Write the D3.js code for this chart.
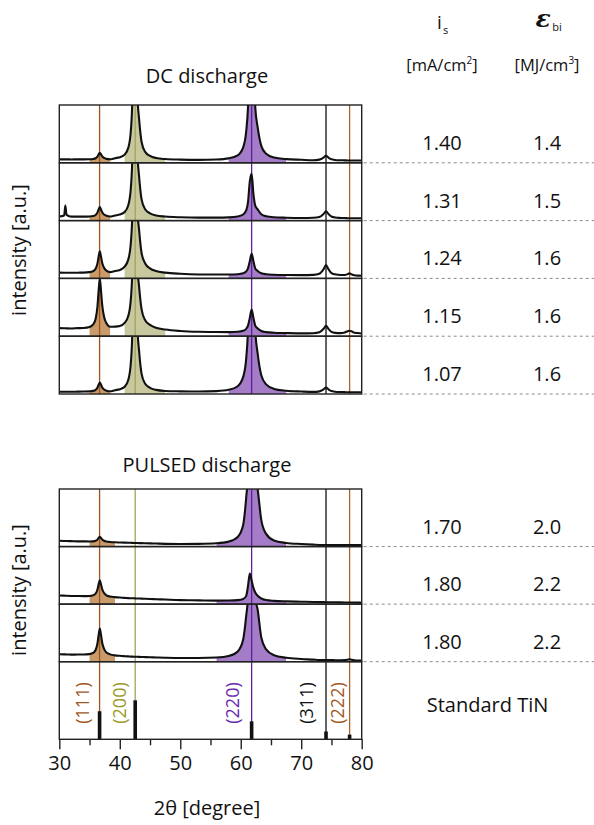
<!DOCTYPE html>
<html><head><meta charset="utf-8">
<script src="https://cdn.jsdelivr.net/npm/d3@7"></script>
<style>body{margin:0;background:#fff}svg{display:block;font-family:"Open Sans",sans-serif}</style>
</head><body><svg id="c" width="594" height="825"></svg>
<script>
// ---------- data ----------
const twoTheta = [30, 30.8, 31.0, 31.2, 32, 33, 34, 35, 35.6, 36.0,
  36.3, 36.5, 36.7, 36.9, 37.1, 37.4, 37.8, 38.4, 39.2, 40.0,
  40.8, 41.4, 41.8, 42.1, 42.3, 42.5, 42.7, 42.9, 43.2, 43.6,
  44.2, 45.0, 46.0, 47.5, 50, 53, 56, 58, 59.5, 60.4,
  60.9, 61.2, 61.5, 61.8, 62.1, 62.4, 62.8, 63.4, 64.2, 65.5,
  67.5, 70, 72, 73.0, 73.7, 74.1, 74.5, 75.0, 75.6, 76.5,
  77.2, 77.7, 78.0, 78.3, 78.8, 79.4, 80];
// DC discharge patterns (intensity, 100 = panel height)
const dc140 = [6.0, 6.0, 5.9, 5.9, 5.8, 5.9, 5.9, 6.1, 6.7, 7.9,
  10.7, 14.5, 17.5, 14.5, 11.1, 8.4, 6.8, 6.1, 8.0, 9.7,
  14.2, 25.8, 52, 117, 234, 355, 234, 120, 75, 36.5,
  18.9, 11.9, 8.3, 6.5, 5.5, 5.1, 5.8, 7.7, 13, 26.8,
  53.8, 96.3, 196, 304, 196, 96.3, 61.3, 29.3, 15.7, 9.0,
  6.3, 5.2, 4.5, 5.5, 9.0, 12.1, 9.0, 6.0, 4.9, 4.4,
  4.2, 4.0, 4.0, 4.0, 4.0, 4.0, 4.0];
const dc131 = [7.0, 8.9, 25.9, 9.9, 6.8, 6.9, 6.9, 7.2, 8.0, 9.8,
  13.8, 19.2, 23.3, 19.1, 14.3, 10.5, 8.2, 7.1, 8.9, 10.4,
  14.8, 26.6, 52.7, 117.8, 234.8, 355.8, 234.8, 120.7, 75.7, 37.1,
  19.6, 12.5, 8.9, 7.0, 5.7, 5.1, 5.2, 5.6, 7.0, 10.5,
  17.5, 32, 68, 81, 46, 26, 19.4, 11.0, 7.5, 5.75,
  5.0, 4.6, 4.9, 6.2, 11.5, 16.2, 11.5, 7.0, 5.4, 4.6,
  4.4, 4.1, 4.1, 4.05, 4.0, 4.0, 4.0];
const dc124 = [10.0, 9.9, 9.85, 9.8, 9.7, 9.9, 10.0, 10.8, 12.6, 16.7,
  25.6, 37.7, 47.0, 37.6, 26.8, 18.4, 13.4, 10.9, 12.7, 14.5,
  20.3, 32.5, 58.2, 120, 237, 358, 237, 123, 83, 44,
  25.9, 17.3, 12.6, 10.0, 8.0, 6.85, 6.7, 6.7, 7.3, 8.9,
  12.2, 17.5, 29.7, 43.0, 29.7, 17.4, 12.9, 9.0, 7.2, 6.3,
  5.8, 5.6, 6.1, 8.1, 16.0, 23.0, 16.0, 9.2, 7.0, 5.8,
  5.9, 7.5, 8.7, 7.2, 5.4, 4.85, 4.7];
const dc115 = [14.0, 13.8, 13.7, 13.6, 13.4, 13.9, 14.3, 16.1, 20.4, 29.8,
  50.3, 78.4, 100, 78.3, 53.3, 33.8, 22.3, 16.3, 16.6, 17.7,
  23.1, 35, 60.8, 122, 239, 360, 239, 125, 85, 46.9,
  27.7, 19.5, 14.7, 11.6, 9.0, 7.6, 7.2, 7.1, 7.6, 9.3,
  12.8, 18.4, 31.7, 46.0, 31.6, 18.2, 13.5, 9.1, 7.1, 6.0,
  5.4, 4.9, 5.2, 6.7, 12.8, 18.2, 12.7, 7.5, 5.7, 5.3,
  6.6, 8.7, 9.5, 8.5, 6.0, 5.5, 4.8];
const dc107 = [4.0, 4.0, 4.0, 4.0, 3.95, 4.05, 4.2, 4.6, 5.4, 7.1,
  10.7, 15.9, 19.8, 15.9, 11.3, 7.8, 5.7, 4.7, 6.6, 8.2,
  12.6, 24.4, 50.6, 116, 233, 354, 233, 119, 73.7, 35.2,
  17.7, 10.6, 7.1, 5.3, 4.6, 4.2, 5.0, 7.2, 13.5, 29.6,
  61.1, 111, 227, 353, 227, 111, 69.8, 32.3, 16.6, 8.8,
  5.7, 4.3, 3.6, 4.5, 8.0, 11.1, 8.0, 5.0, 3.9, 3.4,
  3.2, 3.04, 3.03, 3.03, 3.02, 3.01, 3.0];
// PULSED discharge patterns
const pulsed170 = [10.0, 9.8, 9.7, 9.6, 9.4, 9.1, 9.0, 8.9, 9.1, 10.0,
  12.0, 14.9, 17.0, 14.7, 12.1, 10.05, 8.8, 8.0, 7.4, 7.1,
  6.8, 6.6, 6.5, 6.4, 6.3, 6.25, 6.2, 6.1, 6.0, 5.9,
  5.7, 5.5, 5.2, 4.75, 4.5, 4.75, 5.8, 8.6, 16.7, 37.5,
  85, 128, 260, 400, 260, 128, 100, 46, 22, 10.5,
  6.3, 4.4, 3.3, 2.85, 2.82, 2.8, 2.77, 2.75, 2.72, 2.67,
  2.64, 2.62, 2.6, 2.58, 2.56, 2.53, 2.5];
const pulsed180a = [15.0, 14.7, 14.6, 14.5, 14.2, 14.1, 13.9, 14.2, 15.5, 18.4,
  25.1, 34.3, 41.3, 34.1, 25.8, 19.3, 15.4, 13.2, 12.1, 11.4,
  10.9, 10.4, 10.3, 10.2, 10.1, 10.0, 9.9, 9.8, 9.7, 9.6,
  9.3, 9.0, 8.6, 8.0, 7.0, 6.55, 6.1, 6.3, 7.0, 9.0,
  14.4, 31.3, 53.3, 41.2, 28.2, 20.1, 14.6, 9.8, 7.1, 5.7,
  4.8, 4.2, 3.7, 3.55, 3.45, 3.4, 3.33, 3.25, 3.16, 3.03,
  2.92, 2.85, 2.8, 2.76, 2.68, 2.6, 2.5];
const pulsed180b = [13.0, 12.7, 12.65, 12.6, 12.3, 12.4, 12.4, 13.2, 15.3, 20.3,
  31.2, 46.1, 57.7, 46.0, 32.6, 22.2, 15.9, 12.7, 11.0, 10.2,
  9.6, 9.2, 8.9, 8.8, 8.7, 8.6, 8.55, 8.5, 8.4, 8.25,
  8.0, 7.75, 7.4, 6.9, 6.4, 6.5, 7.3, 9.9, 17.9, 38.6,
  79.5, 114.5, 228, 354, 228, 112, 90.3, 42.0, 21.4, 11.2,
  6.9, 4.7, 3.6, 2.93, 2.84, 2.79, 2.73, 2.67, 2.64, 2.6,
  2.8, 3.6, 4.3, 3.5, 2.6, 2.2, 2.1];
// table values
const dcCurrent = ["1.40", "1.31", "1.24", "1.15", "1.07"];
const dcEnergy = ["1.4", "1.5", "1.6", "1.6", "1.6"];
const pulsedCurrent = ["1.70", "1.80", "1.80"];
const pulsedEnergy = ["2.0", "2.2", "2.2"];
// standard TiN reflections
const refPlanes = ["(111)", "(200)", "(220)", "(311)", "(222)"];
const refAngles = [36.66, 42.55, 61.8, 74.1, 78.0];
const refIntensity = [72, 100, 46, 20, 12];
// shaded peak ranges (degrees)
const fill111 = [35.0, 38.6];
const fill200 = [40.3, 47.5];
const fill220 = [57.0, 67.5];
const fill220Pulsed = [56.0, 69.0];
const fill111Pulsed = [34.6, 39.6];
// axis ticks
const xTicks = [30, 40, 50, 60, 70, 80];
const minorTicks = [35, 45, 55, 65, 75];

// ---------- styles ----------
const lineColors = ["#a0521c", "#a3a35a", "#5b1e9c", "#111111", "#a8642c"];
const labelColors = ["#a0581e", "#9a9a2a", "#6a28b0", "#111111", "#a0581e"];
const fillColors = {p111: "#c99a6a", p200: "#c8c89e", p220: "#a57cc8"};

const svg = d3.select("#c");
const x = d3.scaleLinear().domain([30, 80]).range([59.3, 361.7]);
const dcTop = 105, dcBottom = 394, puTop = 489, puBottom = 661.7, stdBottom = 739.3;
const dcSeries = [dc140, dc131, dc124, dc115, dc107];
const puSeries = [pulsed170, pulsed180a, pulsed180b];
const dcH = (dcBottom - dcTop) / dcSeries.length;
const puH = (puBottom - puTop) / puSeries.length;
const defs = svg.append("defs");
const layerFill = svg.append("g");
const layerVert = svg.append("g");
const layerCurve = svg.append("g");
const layerFrame = svg.append("g");

let clipId = 0;
function drawPanel(data, top, h, fills) {
  const y = d3.scaleLinear().domain([0, 100]).range([top + h, top]);
  const id = "clip" + (clipId++);
  defs.append("clipPath").attr("id", id).append("rect")
    .attr("x", x(30)).attr("y", top).attr("width", x(80) - x(30)).attr("height", h);
  const pts = twoTheta.map((t, i) => [t, data[i]]);
  const gF = layerFill.append("g").attr("clip-path", `url(#${id})`);
  fills.forEach(f => {
    const sub = pts.filter(p => p[0] >= f.range[0] && p[0] <= f.range[1]);
    gF.append("path").datum(sub)
      .attr("d", d3.area().x(d => x(d[0])).y0(top + h).y1(d => y(d[1])).curve(d3.curveMonotoneX))
      .attr("fill", f.color);
  });
  layerCurve.append("g").attr("clip-path", `url(#${id})`)
    .append("path").datum(pts)
    .attr("d", d3.line().x(d => x(d[0])).y(d => y(d[1])).curve(d3.curveMonotoneX))
    .attr("fill", "none").attr("stroke", "#111").attr("stroke-width", 2.1)
    .attr("stroke-linejoin", "round");
  layerFrame.append("rect").attr("x", x(30)).attr("y", top)
    .attr("width", x(80) - x(30)).attr("height", h)
    .attr("fill", "none").attr("stroke", "#222").attr("stroke-width", 1.4);
  // dashed guide to the table
  layerFrame.append("line").attr("x1", x(80) + 2).attr("x2", 594)
    .attr("y1", top + h).attr("y2", top + h)
    .attr("stroke", "#8a8a8a").attr("stroke-width", 1).attr("stroke-dasharray", "3,3");
}

const dcFills = [
  {range: fill111, color: fillColors.p111},
  {range: fill200, color: fillColors.p200},
  {range: fill220, color: fillColors.p220}];
const puFills = [
  {range: fill111Pulsed, color: fillColors.p111},
  {range: fill220Pulsed, color: fillColors.p220}];

dcSeries.forEach((s, i) => drawPanel(s, dcTop + i * dcH, dcH, dcFills));
puSeries.forEach((s, i) => drawPanel(s, puTop + i * puH, puH, puFills));

// vertical reference lines
function vlines(y1, y2) {
  refAngles.forEach((a, i) => {
    layerVert.append("line").attr("x1", x(a)).attr("x2", x(a)).attr("y1", y1).attr("y2", y2)
      .attr("stroke", lineColors[i]).attr("stroke-width", 1.3);
  });
}
vlines(dcTop, dcBottom);
vlines(puTop, stdBottom);

// standard TiN panel
const yStd = d3.scaleLinear().domain([0, 199]).range([stdBottom, puBottom]);
layerCurve.selectAll(".bar").data(refAngles).enter().append("rect")
  .attr("x", d => x(d) - 1.8).attr("width", 3.6)
  .attr("y", (d, i) => yStd(refIntensity[i]))
  .attr("height", (d, i) => stdBottom - yStd(refIntensity[i]))
  .attr("fill", "#111");
layerFrame.append("rect").attr("x", x(30)).attr("y", puBottom)
  .attr("width", x(80) - x(30)).attr("height", stdBottom - puBottom)
  .attr("fill", "none").attr("stroke", "#222").attr("stroke-width", 1.4);
const labelOffsets = [-17, -16, -19, -20, -12];
refPlanes.forEach((p, i) => {
  layerFrame.append("text")
    .attr("transform", `translate(${x(refAngles[i]) + labelOffsets[i]},703) rotate(-90)`)
    .attr("text-anchor", "middle").attr("dy", "0.36em")
    .attr("font-size", 18).attr("fill", labelColors[i]).text(p);
});

// x axis
const axis = svg.append("g").attr("transform", `translate(0,${stdBottom})`)
  .call(d3.axisBottom(x).tickValues(xTicks).tickSize(10).tickPadding(7).tickFormat(d3.format("d")));
axis.select(".domain").remove();
axis.selectAll(".tick line").attr("stroke", "#222").attr("stroke-width", 1.4);
axis.selectAll(".tick text").attr("font-size", 20).attr("font-family", "Open Sans").attr("fill", "#111");
const axisMinor = svg.append("g").attr("transform", `translate(0,${stdBottom})`)
  .call(d3.axisBottom(x).tickValues(minorTicks).tickSize(6).tickFormat(""));
axisMinor.select(".domain").remove();
axisMinor.selectAll(".tick line").attr("stroke", "#222").attr("stroke-width", 1.4);

// texts
const T = (xx, yy, s, size) => svg.append("text").attr("x", xx).attr("y", yy).attr("font-size", size)
    .attr("text-anchor", "middle").attr("fill", "#111").text(s);
T(207, 83, "DC discharge", 20);
T(207, 472, "PULSED discharge", 20);
T(207, 815, "2\u03B8 [degree]", 20);
svg.append("text").attr("transform", "translate(26,250) rotate(-90)")
  .attr("text-anchor", "middle").attr("font-size", 20).attr("fill", "#111").text("intensity [a.u.]");
svg.append("text").attr("transform", "translate(26,590) rotate(-90)")
  .attr("text-anchor", "middle").attr("font-size", 20).attr("fill", "#111").text("intensity [a.u.]");

// table header
const colA = 442, colB = 547;
T(439.5, 28.5, "i", 19);
T(445.5, 34, "s", 11);
svg.append("text").attr("x", 543).attr("y", 27).attr("text-anchor", "middle")
  .attr("font-family", "DejaVu Serif").attr("font-style", "italic").attr("font-weight", "bold")
  .attr("font-size", 25).attr("fill", "#111").text("\u03B5");
T(557, 31, "bi", 11);
const h1 = T(colA, 71, "[mA/cm", 16.5);
h1.append("tspan").attr("font-size", 10).attr("dy", -7).text("2");
h1.append("tspan").attr("dy", 7).text("]");
const h2 = T(colB, 71, "[MJ/cm", 16.5);
h2.append("tspan").attr("font-size", 10).attr("dy", -7).text("3");
h2.append("tspan").attr("dy", 7).text("]");

dcCurrent.forEach((v, i) => {
  const base = dcTop + (i + 1) * dcH - 13;
  T(colA, base, v, 20);
  T(colB, base, dcEnergy[i], 20);
});
pulsedCurrent.forEach((v, i) => {
  const base = puTop + (i + 1) * puH - 13;
  T(colA, base, v, 20);
  T(colB, base, pulsedEnergy[i], 20);
});
T(487.5, 711.5, "Standard TiN", 20);
</script></body></html>
